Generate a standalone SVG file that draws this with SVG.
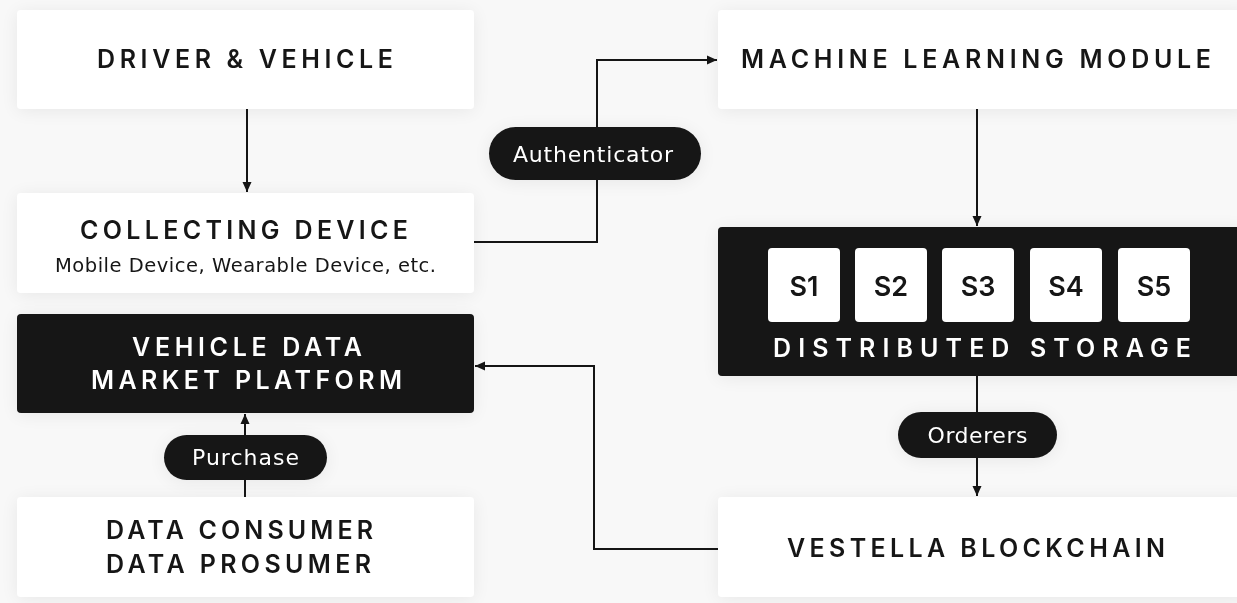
<svg xmlns="http://www.w3.org/2000/svg" width="1237" height="603" viewBox="0 0 1237 603">
<defs>
<filter id="sh" x="-20%" y="-40%" width="140%" height="180%">
<feGaussianBlur in="SourceAlpha" stdDeviation="9"/>
<feOffset dy="2" result="b"/>
<feComponentTransfer><feFuncA type="linear" slope="0.07"/></feComponentTransfer>
<feMerge><feMergeNode/><feMergeNode in="SourceGraphic"/></feMerge>
</filter>
<marker id="ah" viewBox="0 0 10 10" refX="10" refY="5" markerWidth="10" markerHeight="10" markerUnits="userSpaceOnUse" orient="auto">
<path d="M0 0.5 L10 5 L0 9.5 Z" fill="#151515"/>
</marker>
<style>
.lb{fill:#ffffff}
.dk{fill:#151515}
.t{font-family:Inter,"Noto Sans","Open Sans",sans-serif;font-weight:600;font-size:25px;text-anchor:middle}
.tb{fill:#151515}
.tw{fill:#ffffff}
.sub{font-family:"DejaVu Sans","Noto Sans",sans-serif;font-weight:400;font-size:19.5px;text-anchor:middle;fill:#151515}
.pl{font-family:"DejaVu Sans","Noto Sans",sans-serif;font-weight:400;font-size:22px;text-anchor:middle;fill:#ffffff}
.s{font-family:Inter,"Noto Sans","Open Sans",sans-serif;font-weight:600;font-size:27px;text-anchor:middle;fill:#151515}
.cn{fill:none;stroke:#151515;stroke-width:2}
</style>
</defs>
<rect x="0" y="0" width="1237" height="603" fill="#f8f8f8"/>

<g id="connectors">
<path class="cn" d="M247 109 V192" marker-end="url(#ah)"/>
<path class="cn" d="M245 497 V414" marker-end="url(#ah)"/>
<path class="cn" d="M474 242 H597 V60 H717" marker-end="url(#ah)"/>
<path class="cn" d="M977 109 V226" marker-end="url(#ah)"/>
<path class="cn" d="M977 376 V496" marker-end="url(#ah)"/>
<path class="cn" d="M718 549 H594 V366 H475" marker-end="url(#ah)"/>
</g>

<g id="driver-vehicle" filter="url(#sh)">
<rect class="lb" x="17" y="10" width="457" height="99" rx="4"/>
<text class="t tb" x="245" y="68" textLength="296" lengthAdjust="spacing">DRIVER &amp; VEHICLE</text>
</g>

<g id="collecting-device" filter="url(#sh)">
<rect class="lb" x="17" y="193" width="457" height="100" rx="4"/>
<text class="t tb" x="244" y="239" textLength="328" lengthAdjust="spacing">COLLECTING DEVICE</text>
<text class="sub" x="245.5" y="272" textLength="381" lengthAdjust="spacing">Mobile Device, Wearable Device, etc.</text>
</g>

<g id="market-platform" filter="url(#sh)">
<rect class="dk" x="17" y="314" width="457" height="99" rx="4"/>
<text class="t tw" x="247" y="356" textLength="230" lengthAdjust="spacing">VEHICLE DATA</text>
<text class="t tw" x="246.5" y="389" textLength="311" lengthAdjust="spacing">MARKET PLATFORM</text>
</g>

<g id="data-consumer" filter="url(#sh)">
<rect class="lb" x="17" y="497" width="457" height="100" rx="4"/>
<text class="t tb" x="239.5" y="539" textLength="267" lengthAdjust="spacing">DATA CONSUMER</text>
<text class="t tb" x="238.5" y="573" textLength="265" lengthAdjust="spacing">DATA PROSUMER</text>
</g>

<g id="purchase" filter="url(#sh)">
<rect class="dk" x="164" y="435" width="163" height="45" rx="22.5"/>
<text class="pl" x="245.5" y="465" textLength="107" lengthAdjust="spacing">Purchase</text>
</g>

<g id="authenticator" filter="url(#sh)">
<rect class="dk" x="489" y="127" width="212" height="53" rx="26.5"/>
<text class="pl" x="593" y="162" textLength="160" lengthAdjust="spacing">Authenticator</text>
</g>

<g id="ml-module" filter="url(#sh)">
<rect class="lb" x="718" y="10" width="530" height="99" rx="4"/>
<text class="t tb" x="976" y="68" textLength="470" lengthAdjust="spacing">MACHINE LEARNING MODULE</text>
</g>

<g id="distributed-storage" filter="url(#sh)">
<rect class="dk" x="718" y="227" width="530" height="149" rx="4"/>
<rect class="lb" x="768" y="248" width="72" height="74" rx="4"/>
<rect class="lb" x="855" y="248" width="72" height="74" rx="4"/>
<rect class="lb" x="942" y="248" width="72" height="74" rx="4"/>
<rect class="lb" x="1030" y="248" width="72" height="74" rx="4"/>
<rect class="lb" x="1118" y="248" width="72" height="74" rx="4"/>
<text class="s" x="804" y="296">S1</text>
<text class="s" x="891" y="296">S2</text>
<text class="s" x="978" y="296">S3</text>
<text class="s" x="1066" y="296">S4</text>
<text class="s" x="1154" y="296">S5</text>
<text class="t tw" x="982" y="357" font-size="22" textLength="418" lengthAdjust="spacing">DISTRIBUTED STORAGE</text>
</g>

<g id="orderers" filter="url(#sh)">
<rect class="dk" x="898" y="412" width="159" height="46" rx="23"/>
<text class="pl" x="977.5" y="443" font-size="21" textLength="100" lengthAdjust="spacing">Orderers</text>
</g>

<g id="vestella-blockchain" filter="url(#sh)">
<rect class="lb" x="718" y="497" width="530" height="100" rx="4"/>
<text class="t tb" x="976" y="557" textLength="378" lengthAdjust="spacing">VESTELLA BLOCKCHAIN</text>
</g>
</svg>
